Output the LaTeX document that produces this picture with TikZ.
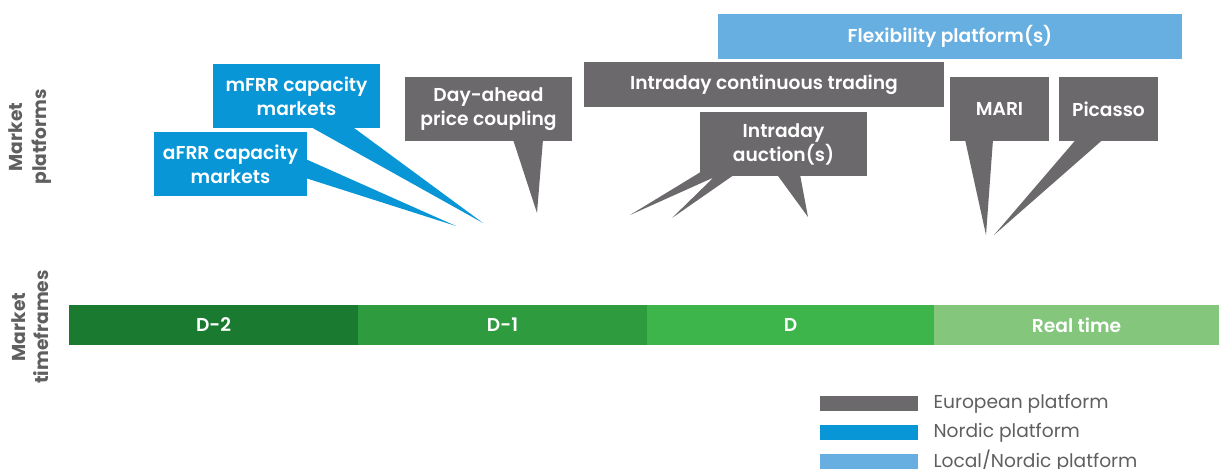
\documentclass[tikz,border=0pt]{standalone}
\usepackage{fontspec}
\setmainfont{Poppins}[BoldFont={Poppins SemiBold}]
\newfontfamily\sidefont{Poppins Bold}
\usetikzlibrary{calc}

\definecolor{eugrey}{RGB}{108,105,108}
\definecolor{nordicblue}{RGB}{8,150,214}
\definecolor{localblue}{RGB}{102,175,224}
\definecolor{labelgrey}{RGB}{95,95,95}
\definecolor{dtwo}{RGB}{25,122,48}
\definecolor{done}{RGB}{46,155,62}
\definecolor{dzero}{RGB}{62,181,75}
\definecolor{realtime}{RGB}{132,199,124}

\tikzset{every picture/.style={line width=0.75pt}}
\tikzset{
  platbox/.style={fill=#1, text=white, font=\bfseries\fontsize{14}{18}\selectfont, align=center, inner sep=0pt},
  smallbox/.style={minimum width=125.25pt, minimum height=48pt},
  timebox/.style={fill=#1, text=white, font=\bfseries\fontsize{14}{16}\selectfont, inner sep=0pt, minimum height=30pt},
  sidelabel/.style={text=labelgrey, font=\sidefont\fontsize{14}{17.5}\selectfont, align=center, rotate=90, inner sep=0pt},
  keybox/.style={fill=#1, inner sep=0pt, minimum width=73.5pt, minimum height=11.25pt},
  keytext/.style={text=labelgrey, font=\fontsize{14}{16}\selectfont, anchor=west, inner sep=0pt}
}

\begin{document}
\begin{tikzpicture}[x=0.75pt,y=0.75pt,yscale=-1,xscale=1]
    \useasboundingbox (0,0) rectangle (1219,468);

    % Side labels
    \node[sidelabel] (lblplat) at (30,137) {Market\\platforms};
    \node[sidelabel] (lbltime) at (30,327) {Market\\timeframes};

    % Tips of the callouts
    \coordinate (tipafrr) at (456,226);
    \coordinate (tipmfrr) at (483,223);
    \coordinate (tipda) at (537,213);
    \coordinate (tipidaa) at (630,215);
    \coordinate (tipidab) at (672,218);
    \coordinate (tipidac) at (808,217);
    \coordinate (tipmari) at (986,235);
    \coordinate (tippic) at (994,235);

    % Platform boxes
    \node[platbox=localblue, minimum width=348pt, minimum height=33.75pt] (flex) at (950,36.5) {Flexibility platform(s)};
    \node[platbox=eugrey, minimum width=270pt, minimum height=33.75pt] (idc) at (764,84.5) {Intraday continuous trading};
    \node[platbox=eugrey, minimum width=74.25pt, minimum height=48pt] (mari) at (999.5,109) {MARI};
    \node[platbox=eugrey, minimum width=74.25pt, minimum height=48pt] (picasso) at (1108.5,109) {Picasso};
    \node[platbox=eugrey, smallbox] (ida) at (783.5,144) {Intraday\\auction(s)};
    \node[platbox=eugrey, smallbox] (dayahead) at (488.5,109) {Day-ahead\\price coupling};
    \node[platbox=nordicblue, smallbox] (mfrr) at (296.5,96) {mFRR capacity\\markets};
    \node[platbox=nordicblue, smallbox, minimum width=114.75pt] (afrr) at (230.5,164) {aFRR capacity\\markets};

    % Callout tails
    \fill[nordicblue] ($(afrr.east)+(-2,-5)$) -- (tipafrr) -- ($(afrr.east)+(-2,14)$) -- cycle;
    \fill[nordicblue] ($(mfrr.south)+(13.5,-2)$) -- (tipmfrr) -- ($(mfrr.south)+(55.5,-2)$) -- cycle;
    \fill[eugrey] ($(dayahead.south)+(24.5,-2)$) -- (tipda) -- ($(dayahead.south)+(54.5,-2)$) -- cycle;
    \fill[eugrey] ($(ida.south west)+(2,-5)$) -- (tipidaa) -- ($(ida.south west)+(14,1)$) -- (tipidab) -- ($(ida.south west)+(35,-2)$) -- ($(ida.south west)+(2,-2)$) -- cycle;
    \fill[eugrey] ($(ida.south)+(-6.5,-2)$) -- (tipidac) -- ($(ida.south)+(16.5,-2)$) -- cycle;
    \fill[eugrey] ($(mari.south)+(-34.5,-2)$) -- (tipmari) -- ($(mari.south)+(-6.5,-2)$) -- cycle;
    \fill[eugrey] ($(picasso.south)+(-32.5,-2)$) -- (tippic) -- ($(picasso.south)+(-5.5,-2)$) -- cycle;

    % Timeframe bar
    \node[timebox=dtwo, minimum width=216.75pt] (dminustwo) at (213.5,325) {D-2};
    \node[timebox=done, minimum width=216.75pt] (dminusone) at (502.5,325) {D-1};
    \node[timebox=dzero, minimum width=215.25pt] (dday) at (790.5,325) {D};
    \node[timebox=realtime, minimum width=213.75pt] (rt) at (1076.5,325) {Real time};

    % Legend
    \node[keybox=eugrey] (keyeu) at (869,403.5) {};
    \node[keybox=nordicblue] (keynordic) at (869,432.5) {};
    \node[keybox=localblue] (keylocal) at (869,461) {};
    \node[keytext] (txteu) at (933,404) {European platform};
    \node[keytext] (txtnordic) at (933,433) {Nordic platform};
    \node[keytext] (txtlocal) at (933,461) {Local/Nordic platform};

\end{tikzpicture}
\end{document}
